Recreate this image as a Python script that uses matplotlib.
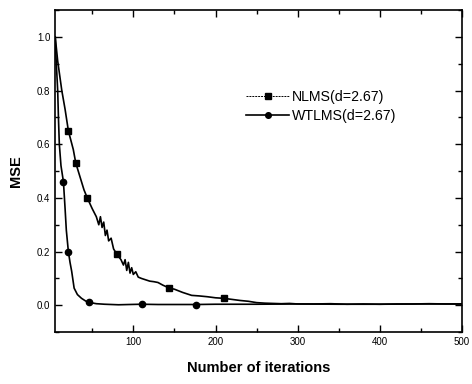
import matplotlib
matplotlib.use("Agg")
import matplotlib.pyplot as plt
from matplotlib.ticker import MultipleLocator

plt.rcParams['font.family'] = ['Liberation Sans', 'DejaVu Sans']

# NLMS curve
nlms_x = [5, 8, 13, 17, 21, 27, 30, 36, 40, 44, 50, 55, 58, 60, 62, 64, 66, 68, 70, 73,
          76, 80, 85, 88, 90, 92, 94, 96, 98, 100, 103, 106, 110, 115, 120, 125, 130, 136,
          144, 150, 160, 171, 180, 190, 200, 210, 220, 230, 240, 250, 260, 270, 280, 290,
          300, 320, 340, 360, 380, 400, 420, 440, 460, 480, 500]
nlms_y = [1.0, 0.91, 0.80, 0.73, 0.65, 0.58, 0.53, 0.47, 0.43, 0.40, 0.36, 0.33, 0.30, 0.33,
          0.29, 0.31, 0.26, 0.28, 0.24, 0.25, 0.21, 0.19, 0.17, 0.15, 0.17, 0.13, 0.16, 0.12,
          0.14, 0.115, 0.125, 0.105, 0.10, 0.095, 0.09, 0.088, 0.085, 0.075, 0.064, 0.06,
          0.048, 0.037, 0.035, 0.032, 0.028, 0.026, 0.022, 0.018, 0.015, 0.010, 0.008, 0.007,
          0.006, 0.007, 0.005, 0.005, 0.006, 0.004, 0.005, 0.004, 0.005, 0.005, 0.006, 0.005,
          0.005]
nlms_marks = [21, 30, 44, 80, 144, 210]

# WTLMS curve
wt_x = [5, 6, 7, 8, 9, 10, 12, 15, 17, 18.5, 21, 23, 25, 28, 32, 37, 42, 46, 55, 65, 82,
        95, 110, 130, 150, 176, 200, 250, 300, 350, 400, 450, 500]
wt_y = [1.0, 0.92, 0.86, 0.80, 0.69, 0.60, 0.52, 0.46, 0.36, 0.28, 0.20, 0.16, 0.127,
        0.064, 0.04, 0.026, 0.016, 0.011, 0.006, 0.004, 0.002, 0.003, 0.004, 0.003, 0.003,
        0.003, 0.004, 0.004, 0.005, 0.004, 0.004, 0.005, 0.005]
wt_marks = [15, 21, 46, 110, 176]

yticks = [0.0, 0.2, 0.4, 0.6, 0.8, 1.0]
xticks = [100, 200, 300, 400, 500]

fig = plt.figure(figsize=(4.72, 3.84), dpi=100)
ax = fig.add_axes([0.117, 0.135, 0.862, 0.839])

ax.plot(nlms_x, nlms_y, color='black', lw=1.2, marker='s', ms=4.5,
        markevery=[nlms_x.index(v) for v in nlms_marks], label='NLMS(d=2.67)')
ax.plot(wt_x, wt_y, color='black', lw=1.2, marker='o', ms=4.5,
        markevery=[wt_x.index(v) for v in wt_marks], label='WTLMS(d=2.67)')

ax.set_xlim(5, 500)
ax.set_ylim(-0.1, 1.1)
ax.set_xticks(xticks)
ax.set_yticks(yticks)
ax.set_yticklabels(['%.1f' % v for v in yticks])
ax.xaxis.set_minor_locator(MultipleLocator(50))
ax.yaxis.set_minor_locator(MultipleLocator(0.1))
ax.tick_params(which='both', direction='in', top=True, right=True, labelsize=7, width=1)
ax.tick_params(which='major', length=5)
ax.tick_params(which='minor', length=3)
for s in ax.spines.values():
    s.set_linewidth(1.2)

ax.set_xlabel('Number of iterations', fontsize=10.5, fontweight='bold', labelpad=10)
ax.set_ylabel('MSE', fontsize=10.5, fontweight='bold', labelpad=10)

leg = ax.legend(loc='center left', bbox_to_anchor=(0.47, 0.70), frameon=False,
                fontsize=10.2, handlelength=3.0, handletextpad=0.2, labelspacing=0.35,
                borderpad=0, borderaxespad=0, markerscale=0.9)
leg.get_lines()[0].set_linewidth(0.7)
leg.get_lines()[0].set_linestyle((0, (2, 1)))

fig.savefig('out.png', dpi=100)
